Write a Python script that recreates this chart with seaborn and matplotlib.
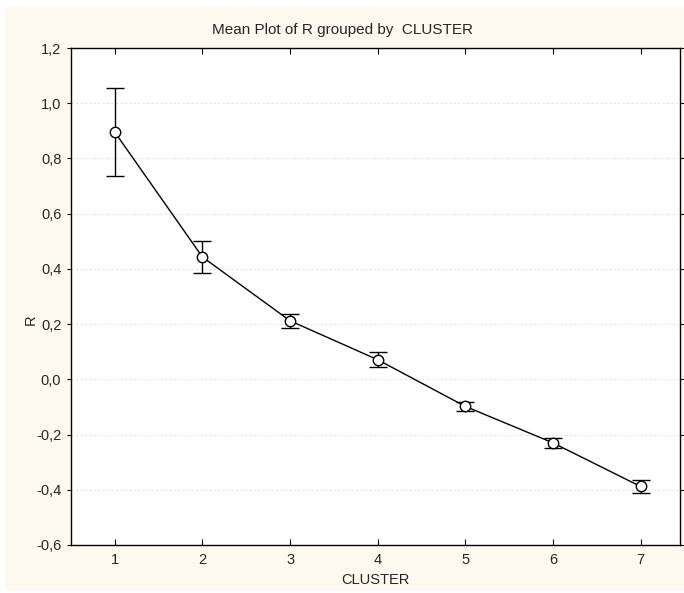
import pandas as pd
import matplotlib.pyplot as plt
import matplotlib.patches as mpatches
import seaborn as sns

# values
cluster = [1, 2, 3, 4, 5, 6, 7]
r_mean = [0.895, 0.443, 0.212, 0.071, -0.098, -0.230, -0.388]
r_err = [0.160, 0.057, 0.025, 0.028, 0.015, 0.017, 0.025]
yticks = [-0.6, -0.4, -0.2, 0.0, 0.2, 0.4, 0.6, 0.8, 1.0, 1.2]

df = pd.DataFrame({"CLUSTER": cluster, "R": r_mean, "err": r_err})

sns.set_style("white")
plt.rcParams["font.family"] = ["Liberation Sans", "DejaVu Sans"]

fig = plt.figure(figsize=(6.84, 5.93), dpi=100, facecolor="white")
# cream panel behind everything
fig.patches.append(mpatches.Rectangle((5 / 684, 3 / 593), 679 / 684, 583 / 593,
                                      transform=fig.transFigure, facecolor="#fdf9ee",
                                      edgecolor="none", zorder=-10))
ax = fig.add_axes([71 / 684, 48 / 593, 609 / 684, 497 / 593])
ax.set_facecolor("white")

ax.errorbar(df["CLUSTER"], df["R"], yerr=df["err"], fmt="none", ecolor="black",
            elinewidth=1, capsize=6.5, capthick=1, zorder=2)
sns.lineplot(data=df, x="CLUSTER", y="R", ax=ax, color="black", linewidth=1,
             marker="o", markersize=7.5, markerfacecolor="white",
             markeredgecolor="black", markeredgewidth=1, zorder=3)

ax.set_xlim(0.5, 7.45)
ax.set_ylim(-0.6, 1.2)
ax.set_xticks(cluster)
ax.set_yticks(yticks)
ax.set_yticklabels([f"{v:.1f}".replace(".", ",") for v in yticks])
ax.grid(axis="y", linestyle=(0, (2, 2)), color="#e2e2e2", linewidth=0.8)
ax.grid(axis="x", visible=False)

for s in ax.spines.values():
    s.set_color("black")
    s.set_linewidth(1)

ax.tick_params(axis="x", direction="in", top=True, bottom=True, length=4,
               labelsize=10.5, pad=6, color="black")
ax.tick_params(axis="y", direction="out", left=True, right=True, length=3,
               labelsize=10.5, pad=4, color="black")

ax.set_xlabel("CLUSTER", fontsize=10.5, labelpad=4)
ax.set_ylabel("R", fontsize=10.5)
ax.yaxis.set_label_coords(-0.055, 0.453)
ax.set_title("Mean Plot of R grouped by  CLUSTER", fontsize=11, pad=10, x=0.445)

fig.savefig("out.png", dpi=100, facecolor=fig.get_facecolor())
